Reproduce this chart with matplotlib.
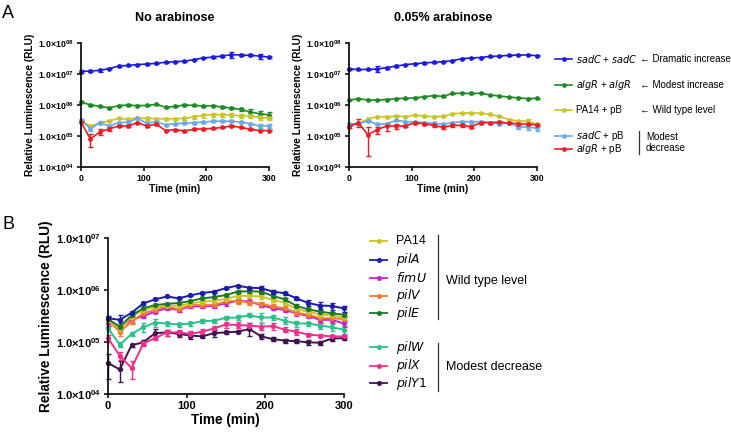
import numpy as np
import matplotlib
matplotlib.use("Agg")
import matplotlib.pyplot as plt
from matplotlib.lines import Line2D
from matplotlib.ticker import FixedLocator, FuncFormatter, NullLocator

plt.rcParams['font.family'] = ['Liberation Sans', 'DejaVu Sans']
plt.rcParams['mathtext.default'] = 'regular'

time = list(range(0, 301, 15))

# panel A, no arabinose
a0_sadC_sadC = [1.2e7, 1.25e7, 1.3e7, 1.5e7, 1.8e7, 1.9e7, 2.0e7, 2.1e7, 2.2e7, 2.4e7, 2.5e7,
                2.6e7, 2.9e7, 3.3e7, 3.5e7, 3.8e7, 4.2e7, 4.1e7, 4.0e7, 3.8e7, 3.5e7]
a0_sadC_sadC_err = [0.1e7, 0.1e7, 0.1e7, 0.1e7, 0.1e7, 0.1e7, 0.1e7, 0.1e7, 0.1e7, 0.1e7, 0.1e7,
                    0.1e7, 0.1e7, 0.1e7, 0.2e7, 0.2e7, 0.8e7, 0.3e7, 0.3e7, 0.7e7, 0.3e7]
a0_algR_algR = [1.25e6, 1.0e6, 0.92e6, 0.8e6, 0.95e6, 1.0e6, 0.95e6, 0.97e6, 1.05e6, 0.85e6, 0.9e6,
                1.0e6, 0.97e6, 0.93e6, 0.95e6, 0.85e6, 0.8e6, 0.72e6, 0.6e6, 0.52e6, 0.48e6]
a0_algR_algR_err = [0.5e5, 0.5e5, 0.4e5, 0.4e5, 0.4e5, 0.4e5, 0.4e5, 0.4e5, 0.4e5, 0.4e5, 0.4e5,
                    0.4e5, 0.4e5, 0.4e5, 0.5e5, 0.5e5, 0.6e5, 0.8e5, 1.2e5, 1.3e5, 1.1e5]
a0_PA14_pB = [3.0e5, 2.1e5, 2.6e5, 3.1e5, 3.7e5, 3.5e5, 3.8e5, 3.7e5, 3.6e5, 3.6e5, 3.6e5,
              3.7e5, 4.1e5, 4.6e5, 4.9e5, 4.8e5, 4.7e5, 4.5e5, 4.3e5, 4.0e5, 3.8e5]
a0_PA14_pB_err = [0.2e5, 0.2e5, 0.2e5, 0.2e5, 0.2e5, 0.2e5, 0.2e5, 0.5e5, 0.3e5, 0.3e5, 0.3e5,
                  0.4e5, 0.6e5, 0.7e5, 0.8e5, 0.8e5, 0.7e5, 0.6e5, 0.6e5, 0.6e5, 0.5e5]
a0_sadC_pB = [3.3e5, 1.7e5, 2.7e5, 2.1e5, 2.7e5, 2.8e5, 3.7e5, 2.6e5, 2.9e5, 2.3e5, 2.5e5,
              2.6e5, 2.7e5, 2.8e5, 3.0e5, 3.0e5, 3.0e5, 2.8e5, 2.5e5, 2.1e5, 2.1e5]
a0_sadC_pB_err = [0.3e5, 0.3e5, 0.3e5, 0.2e5, 0.2e5, 0.2e5, 0.2e5, 0.2e5, 0.2e5, 0.2e5, 0.2e5,
                  0.2e5, 0.2e5, 0.2e5, 0.2e5, 0.2e5, 0.2e5, 0.2e5, 0.2e5, 0.3e5, 0.3e5]
a0_algR_pB = [2.8e5, 0.8e5, 1.35e5, 1.7e5, 2.1e5, 2.1e5, 2.7e5, 2.1e5, 2.4e5, 1.5e5, 1.6e5,
              1.45e5, 1.65e5, 1.7e5, 1.75e5, 1.9e5, 2.1e5, 1.9e5, 1.65e5, 1.5e5, 1.5e5]
a0_algR_pB_err = [0.2e5, 0.35e5, 0.3e5, 0.25e5, 0.1e5, 0.1e5, 0.1e5, 0.1e5, 0.1e5, 0.1e5, 0.1e5,
                  0.1e5, 0.1e5, 0.1e5, 0.1e5, 0.1e5, 0.1e5, 0.1e5, 0.1e5, 0.1e5, 0.1e5]

# panel A, 0.05% arabinose
a1_sadC_sadC = [1.45e7, 1.4e7, 1.4e7, 1.45e7, 1.6e7, 1.8e7, 2.0e7, 2.15e7, 2.25e7, 2.4e7, 2.5e7,
                2.7e7, 3.1e7, 3.3e7, 3.4e7, 3.7e7, 3.8e7, 4.0e7, 4.1e7, 4.1e7, 3.9e7]
a1_sadC_sadC_err = [0.1e7, 0.1e7, 0.1e7, 0.3e7, 0.1e7, 0.1e7, 0.1e7, 0.1e7, 0.1e7, 0.1e7, 0.1e7,
                    0.1e7, 0.1e7, 0.1e7, 0.1e7, 0.1e7, 0.1e7, 0.1e7, 0.1e7, 0.1e7, 0.1e7]
a1_algR_algR = [1.45e6, 1.6e6, 1.45e6, 1.45e6, 1.5e6, 1.6e6, 1.65e6, 1.7e6, 1.85e6, 2.0e6, 1.9e6,
                2.35e6, 2.4e6, 2.35e6, 2.4e6, 2.1e6, 1.95e6, 1.8e6, 1.7e6, 1.6e6, 1.65e6]
a1_algR_algR_err = [0.5e5, 0.5e5, 0.5e5, 0.5e5, 0.5e5, 0.5e5, 0.5e5, 0.5e5, 0.5e5, 0.5e5, 0.5e5,
                    0.5e5, 0.5e5, 0.5e5, 0.5e5, 0.5e5, 0.5e5, 0.5e5, 0.5e5, 0.5e5, 0.5e5]
a1_PA14_pB = [2.3e5, 2.5e5, 3.5e5, 4.2e5, 4.1e5, 4.4e5, 4.2e5, 4.7e5, 4.4e5, 4.2e5, 4.3e5,
              5.2e5, 5.5e5, 5.5e5, 5.5e5, 5.0e5, 4.3e5, 3.4e5, 3.0e5, 3.0e5, 2.4e5]
a1_PA14_pB_err = [0.2e5, 0.2e5, 0.2e5, 0.2e5, 0.2e5, 0.2e5, 0.2e5, 0.2e5, 0.2e5, 0.2e5, 0.2e5,
                  0.2e5, 0.2e5, 0.2e5, 0.2e5, 0.2e5, 0.2e5, 0.2e5, 0.3e5, 0.5e5, 0.2e5]
a1_sadC_pB = [2.4e5, 2.5e5, 3.1e5, 2.4e5, 2.45e5, 3.2e5, 2.9e5, 2.8e5, 2.7e5, 2.55e5, 2.4e5,
              2.7e5, 2.9e5, 2.9e5, 2.9e5, 2.7e5, 2.5e5, 2.6e5, 2.0e5, 1.9e5, 1.8e5]
a1_sadC_pB_err = [0.2e5, 0.2e5, 0.2e5, 0.2e5, 0.2e5, 0.2e5, 0.2e5, 0.2e5, 0.2e5, 0.2e5, 0.2e5,
                  0.2e5, 0.2e5, 0.2e5, 0.2e5, 0.2e5, 0.2e5, 0.2e5, 0.3e5, 0.3e5, 0.3e5]
a1_algR_pB = [2.0e5, 2.7e5, 1.1e5, 1.6e5, 2.1e5, 2.1e5, 2.1e5, 2.7e5, 2.5e5, 2.2e5, 1.9e5,
              2.2e5, 2.2e5, 2.0e5, 2.7e5, 2.7e5, 2.8e5, 2.6e5, 2.5e5, 2.4e5, 2.3e5]
a1_algR_pB_err = [0.2e5, 0.8e5, 0.87e5, 0.4e5, 0.6e5, 0.4e5, 0.2e5, 0.2e5, 0.2e5, 0.2e5, 0.2e5,
                  0.2e5, 0.2e5, 0.2e5, 0.2e5, 0.2e5, 0.2e5, 0.2e5, 0.2e5, 0.2e5, 0.2e5]

# panel B
b_PA14 = [2.7e5, 1.8e5, 3.1e5, 4.2e5, 4.7e5, 5.1e5, 5.0e5, 5.6e5, 6.0e5, 6.3e5, 6.8e5,
          7.8e5, 7.8e5, 7.6e5, 6.5e5, 5.8e5, 4.3e5, 3.9e5, 3.4e5, 3.3e5, 3.0e5]
b_PA14_err = [0.3e5, 0.3e5, 0.3e5, 0.3e5, 0.3e5, 0.3e5, 0.3e5, 0.3e5, 0.4e5, 0.4e5, 0.5e5,
              0.6e5, 0.8e5, 0.8e5, 0.6e5, 0.5e5, 0.4e5, 0.3e5, 0.3e5, 0.3e5, 0.3e5]
b_pilA = [2.9e5, 2.7e5, 3.7e5, 5.6e5, 6.7e5, 7.6e5, 7.0e5, 8.0e5, 8.9e5, 9.4e5, 1.1e6,
          1.23e6, 1.12e6, 1.1e6, 9.4e5, 8.8e5, 7.0e5, 5.7e5, 5.1e5, 5.0e5, 4.5e5]
b_pilA_err = [0.3e5, 0.6e5, 0.3e5, 0.3e5, 0.3e5, 0.3e5, 0.3e5, 0.3e5, 0.4e5, 0.4e5, 0.5e5,
              0.5e5, 0.6e5, 1.0e5, 0.6e5, 0.5e5, 0.5e5, 0.8e5, 0.8e5, 0.8e5, 0.6e5]
b_fimU = [2.4e5, 2.0e5, 2.7e5, 3.2e5, 3.9e5, 4.5e5, 4.2e5, 4.9e5, 4.9e5, 5.0e5, 5.6e5,
          6.3e5, 6.1e5, 5.2e5, 4.5e5, 4.2e5, 3.6e5, 3.2e5, 2.7e5, 2.7e5, 2.3e5]
b_fimU_err = [0.3e5, 0.3e5, 0.3e5, 0.3e5, 0.3e5, 0.3e5, 0.3e5, 0.4e5, 0.4e5, 0.4e5, 0.5e5,
              0.5e5, 0.5e5, 0.5e5, 0.4e5, 0.4e5, 0.4e5, 0.3e5, 0.3e5, 0.3e5, 0.3e5]
b_pilV = [2.6e5, 1.6e5, 2.5e5, 3.6e5, 4.2e5, 4.9e5, 4.3e5, 5.2e5, 5.2e5, 5.2e5, 6.1e5,
          6.3e5, 5.8e5, 5.5e5, 4.9e5, 4.5e5, 3.7e5, 3.4e5, 2.9e5, 2.9e5, 2.8e5]
b_pilV_err = [0.3e5, 0.3e5, 0.3e5, 0.5e5, 0.3e5, 0.3e5, 0.3e5, 0.4e5, 0.4e5, 0.4e5, 0.5e5,
              0.8e5, 0.6e5, 0.5e5, 0.6e5, 0.5e5, 0.4e5, 0.3e5, 0.4e5, 0.4e5, 0.3e5]
b_pilE = [2.8e5, 2.0e5, 3.3e5, 4.5e5, 5.2e5, 5.5e5, 5.7e5, 6.2e5, 7.0e5, 7.4e5, 8.1e5,
          9.4e5, 9.6e5, 9.4e5, 7.8e5, 6.7e5, 5.0e5, 4.3e5, 3.9e5, 3.6e5, 3.4e5]
b_pilE_err = [0.3e5, 0.3e5, 0.3e5, 0.3e5, 0.3e5, 0.3e5, 0.3e5, 0.4e5, 0.4e5, 0.4e5, 0.5e5,
              0.6e5, 0.8e5, 0.8e5, 0.6e5, 0.5e5, 0.4e5, 0.3e5, 0.3e5, 0.3e5, 0.3e5]
b_pilW = [1.85e5, 0.9e5, 1.45e5, 1.95e5, 2.4e5, 2.3e5, 2.2e5, 2.3e5, 2.55e5, 2.6e5, 2.95e5,
          3.0e5, 3.3e5, 3.0e5, 3.0e5, 2.6e5, 2.3e5, 2.3e5, 2.1e5, 1.95e5, 1.75e5]
b_pilW_err = [0.2e5, 0.1e5, 0.1e5, 0.4e5, 0.4e5, 0.2e5, 0.2e5, 0.2e5, 0.2e5, 0.2e5, 0.2e5,
              0.3e5, 0.3e5, 0.6e5, 0.3e5, 0.4e5, 0.3e5, 0.2e5, 0.3e5, 0.3e5, 0.3e5]
b_pilX = [1.2e5, 5.5e4, 3.2e4, 0.95e5, 1.2e5, 1.55e5, 1.55e5, 1.45e5, 1.6e5, 1.85e5, 2.2e5,
          2.15e5, 2.1e5, 2.0e5, 2.05e5, 1.75e5, 1.6e5, 1.4e5, 1.35e5, 1.3e5, 1.3e5]
b_pilX_err = [0.2e5, 0.1e5, 1.2e4, 0.1e5, 0.1e5, 0.2e5, 0.2e5, 0.2e5, 0.2e5, 0.2e5, 0.3e5,
              0.3e5, 0.3e5, 0.3e5, 0.3e5, 0.2e5, 0.2e5, 0.1e5, 0.1e5, 0.1e5, 0.1e5]
b_pilY1 = [4.0e4, 3.0e4, 8.8e4, 1.0e5, 1.5e5, 1.55e5, 1.45e5, 1.35e5, 1.3e5, 1.5e5, 1.55e5,
           1.6e5, 1.8e5, 1.3e5, 1.15e5, 1.08e5, 1.05e5, 1.0e5, 0.98e5, 1.18e5, 1.2e5]
b_pilY1_err = [2.0e4, 1.3e4, 0.5e4, 0.1e5, 0.3e5, 0.2e5, 0.2e5, 0.2e5, 0.1e5, 0.25e5, 0.1e5,
               0.1e5, 0.5e5, 0.15e5, 0.1e5, 0.1e5, 0.1e5, 0.1e5, 0.1e5, 0.1e5, 0.1e5]

A_COLORS = ['#1c1cd8', '#1d8a26', '#c9c42a', '#6aa8e8', '#ec1c24']
B_COLORS = {'PA14': '#c9c42a', 'pilA': '#1c1ca8', 'fimU': '#c824c8', 'pilV': '#f47a32',
            'pilE': '#1d7a22', 'pilW': '#2cc08c', 'pilX': '#f0308c', 'pilY1': '#3c1450'}

W, H = 731, 432
fig = plt.figure(figsize=(W / 100, H / 100), dpi=100)


def px(x, y):
    return x / W, 1 - y / H


def sci(v, pos):
    e = int(round(np.log10(v)))
    return '1.0\u00d710$^{%02d}$' % e


def style_axis(ax, decades, tick_fs, label_fs):
    ax.set_yscale('log')
    ax.set_ylim(10.0 ** decades[0], 10.0 ** decades[-1])
    ax.set_xlim(0, 300)
    ax.yaxis.set_major_locator(FixedLocator([10.0 ** d for d in decades]))
    ax.yaxis.set_minor_locator(NullLocator())
    ax.yaxis.set_major_formatter(FuncFormatter(sci))
    ax.set_xticks([0, 100, 200, 300])
    for s in ['top', 'right']:
        ax.spines[s].set_visible(False)
    for s in ['left', 'bottom']:
        ax.spines[s].set_linewidth(1.2)
    ax.tick_params(width=1.1, length=3, labelsize=tick_fs, pad=2)
    for lab in ax.get_xticklabels() + ax.get_yticklabels():
        lab.set_fontweight('bold')
    ax.set_xlabel('Time (min)', fontsize=label_fs, fontweight='bold', labelpad=1)
    ax.set_ylabel('Relative Luminescence (RLU)', fontsize=label_fs, fontweight='bold', labelpad=2)


def draw(ax, ys, errs, color, lw=1.3, ms=2.6):
    ax.errorbar(time, ys, yerr=errs, color=color, lw=lw, marker='o', ms=ms,
                elinewidth=1.0, capsize=1.8, capthick=1.0, clip_on=False)


# panel A
ax0 = fig.add_axes([81 / W, 1 - 167 / H, 188 / W, 124 / H])
ax1 = fig.add_axes([349 / W, 1 - 167 / H, 188 / W, 124 / H])
series0 = [(a0_sadC_sadC, a0_sadC_sadC_err), (a0_algR_algR, a0_algR_algR_err),
           (a0_PA14_pB, a0_PA14_pB_err), (a0_sadC_pB, a0_sadC_pB_err), (a0_algR_pB, a0_algR_pB_err)]
series1 = [(a1_sadC_sadC, a1_sadC_sadC_err), (a1_algR_algR, a1_algR_algR_err),
           (a1_PA14_pB, a1_PA14_pB_err), (a1_sadC_pB, a1_sadC_pB_err), (a1_algR_pB, a1_algR_pB_err)]
for ax, series, title in [(ax0, series0, 'No arabinose'), (ax1, series1, '0.05% arabinose')]:
    for (ys, es), c in zip(series, A_COLORS):
        draw(ax, ys, es, c, lw=1.2, ms=2.4)
    style_axis(ax, [4, 5, 6, 7, 8], 6.3, 7.3)
    ax.set_title(title, fontsize=9, fontweight='bold', pad=16)

fig.text(*px(2, 18), 'A', fontsize=13)

# legend A
legA = [("$\\it{sadC}$ + $\\it{sadC}$", 59, '\u2190 Dramatic increase'),
        ("$\\it{algR}$ + $\\it{algR}$", 85, '\u2190 Modest increase'),
        ('PA14 + pB', 110, '\u2190 Wild type level'),
        ("$\\it{sadC}$ + pB", 136, None),
        ("$\\it{algR}$ + pB", 149, None)]
for (lab, y, note), c in zip(legA, A_COLORS):
    fig.add_artist(Line2D([555 / W, 572 / W], [1 - y / H] * 2, color=c, lw=1.2))
    fig.add_artist(Line2D([563.5 / W], [1 - y / H], color=c, marker='o', ms=2.4))
    fig.text(*px(576, y), lab, fontsize=7, va='center')
    if note:
        fig.text(*px(640, y), note, fontsize=7, va='center')
fig.add_artist(Line2D([639 / W] * 2, [1 - 131 / H, 1 - 154 / H], color='#333333', lw=0.9))
fig.text(*px(646, 142.5), 'Modest\ndecrease', fontsize=7, va='center', linespacing=1.15)

# panel B
axb = fig.add_axes([108 / W, 1 - 394.3 / H, 235.6 / W, 156 / H])
b_series = [('PA14', b_PA14, b_PA14_err), ('pilA', b_pilA, b_pilA_err),
            ('fimU', b_fimU, b_fimU_err), ('pilV', b_pilV, b_pilV_err),
            ('pilE', b_pilE, b_pilE_err), ('pilW', b_pilW, b_pilW_err),
            ('pilX', b_pilX, b_pilX_err), ('pilY1', b_pilY1, b_pilY1_err)]
draw_order = ['pilY1', 'pilX', 'pilW', 'fimU', 'pilV', 'PA14', 'pilE', 'pilA']
lookup = {n: (y, e) for n, y, e in b_series}
for n in draw_order:
    ys, es = lookup[n]
    draw(axb, ys, es, B_COLORS[n], lw=1.4, ms=2.8)
style_axis(axb, [4, 5, 6, 7], 8, 9.8)
fig.text(*px(2, 229), 'B', fontsize=13)

legB_y = [241.3, 260, 277.7, 295.7, 313.3, 347.3, 365.7, 383.3]
for (n, _, _), y in zip(b_series, legB_y):
    c = B_COLORS[n]
    fig.add_artist(Line2D([370 / W, 387 / W], [1 - y / H] * 2, color=c, lw=1.3))
    fig.add_artist(Line2D([378.5 / W], [1 - y / H], color=c, marker='o', ms=2.6))
    lab = n if n == 'PA14' else '$\\it{%s}$' % n
    fig.text(*px(396.5, y), lab, fontsize=9, va='center')
fig.add_artist(Line2D([438.3 / W] * 2, [1 - 235 / H, 1 - 319.3 / H], color='#333333', lw=0.9))
fig.add_artist(Line2D([438.3 / W] * 2, [1 - 343.3 / H, 1 - 390.7 / H], color='#333333', lw=0.9))
fig.text(*px(445.7, 280.7), 'Wild type level', fontsize=9, va='center')
fig.text(*px(445.7, 367.3), 'Modest decrease', fontsize=9, va='center')

fig.savefig('out.png', dpi=100)
